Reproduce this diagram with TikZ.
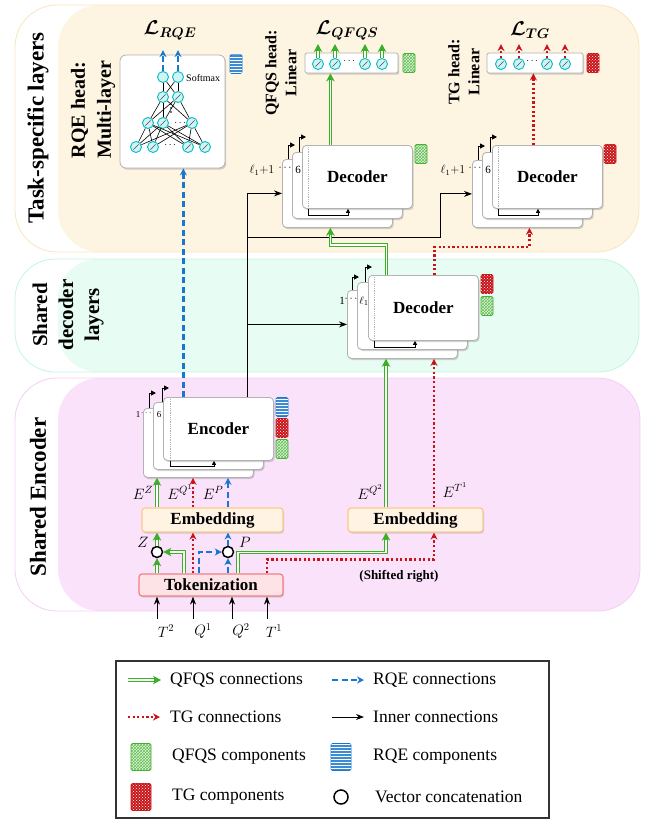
\documentclass[tikz,border=0pt]{standalone}
\usepackage{fix-cm}
\usepackage{amsmath,bm}
\usepackage{fontspec}
\setmainfont{Liberation Serif}
\usepackage{tikz}
\usetikzlibrary{arrows.meta,shadows,patterns}
\definecolor{qfgreen}{RGB}{60,175,40}
\definecolor{tgred}{RGB}{200,20,25}
\definecolor{rqblue}{RGB}{25,120,205}
\definecolor{nrcyan}{RGB}{0,190,195}
\definecolor{taskbg}{RGB}{253,244,226}
\definecolor{taskrim}{RGB}{250,228,190}
\definecolor{sdecbg}{RGB}{231,252,243}
\definecolor{sdecrim}{RGB}{195,245,228}
\definecolor{encbg}{RGB}{251,226,251}
\definecolor{encrim}{RGB}{245,205,245}
\definecolor{tokfill}{RGB}{253,226,230}
\definecolor{tokrim}{RGB}{240,128,135}
\definecolor{embfill}{RGB}{255,243,228}
\definecolor{embrim}{RGB}{250,200,140}

\begin{document}
\begin{tikzpicture}[
  x=1pt,y=-1pt,>=Stealth,
  bandlab/.style={rotate=90,align=center,font=\fontsize{23}{26}\selectfont\bfseries},
  headlab/.style={rotate=90,align=center,font=\fontsize{16}{20}\selectfont\bfseries},
  layer/.style={draw=black!30,fill=white,rounded corners=4pt,anchor=north west,
    minimum width=110pt,inner sep=0,line width=0.8pt,
    drop shadow={opacity=0.35,shadow xshift=1.2pt,shadow yshift=-1.6pt},
    font=\fontsize{17}{20}\selectfont\bfseries},
  stacklab/.style={inner sep=0,font=\fontsize{11}{13}\selectfont},
  headbox/.style={draw=black!30,fill=white,rounded corners=1.5pt,inner sep=0,line width=0.8pt,
    drop shadow={opacity=0.35,shadow xshift=1.2pt,shadow yshift=-1.6pt}},
  neuron/.style={circle,draw=nrcyan,fill=nrcyan!18,line width=0.9pt,minimum size=11pt,inner sep=0},
  sneuron/.style={neuron,path picture={\draw[black!70,line width=0.5pt]
    ([shift={(-2.6pt,-2.6pt)}]path picture bounding box.center) --
    ([shift={(2.6pt,2.6pt)}]path picture bounding box.center);}},
  nnedge/.style={black,line width=0.6pt},
  dotsl/.style={inner sep=0,font=\fontsize{10}{12}\selectfont},
  tokbox/.style={draw=tokrim,fill=tokfill,rounded corners=3pt,line width=1.2pt,inner sep=0,
    font=\fontsize{17}{20}\selectfont\bfseries,
    drop shadow={opacity=0.3,shadow xshift=1pt,shadow yshift=-1.5pt}},
  embbox/.style={tokbox,draw=embrim,fill=embfill},
  concat/.style={circle,draw,line width=1.5pt,fill=white,minimum size=11pt,inner sep=0},
  ico/.style={rounded corners=1.5pt,minimum width=12pt,minimum height=19pt,inner sep=0,line width=0.8pt},
  qico/.style={ico,draw=qfgreen,fill=qfgreen!15,postaction={pattern=crosshatch,pattern color=qfgreen!80}},
  tico/.style={ico,draw=tgred,fill=tgred,postaction={pattern=crosshatch dots,pattern color=white}},
  rico/.style={ico,draw=rqblue,fill=rqblue!85,postaction={pattern=horizontal lines,pattern color=white}},
  elab/.style={inner sep=0,font=\fontsize{15}{18}\selectfont},
  flag/.style={line width=1pt,-{Triangle[length=5pt,width=5pt]}},
  loopar/.style={line width=1pt,-{Triangle[length=4pt,width=4pt]}},
  sepline/.style={black!30,densely dotted,line width=0.8pt},
  qf/.style={draw=qfgreen,line width=3.8pt,-{Stealth[length=8pt,width=8.5pt]},
    postaction={draw=white,line width=1.3pt,-,shorten >=7pt}},
  tg/.style={draw=tgred,line width=2.2pt,dash pattern=on 2.2pt off 2.4pt,-{Stealth[length=7pt,width=7pt]}},
  rq/.style={draw=rqblue,line width=2.2pt,dash pattern=on 6pt off 3.5pt,-{Stealth[length=7pt,width=7pt]}},
  inner/.style={draw=black,line width=1pt,-{Stealth[length=8pt,width=6pt]}},
  legtext/.style={anchor=west,inner sep=0,font=\fontsize{17.5}{20}\selectfont}
]
\useasboundingbox (0,0) rectangle (649,820);
% bands
\fill[white,rounded corners=42pt] (15,5) rectangle (639,252);
\fill[taskbg,rounded corners=42pt] (58,5) rectangle (639,252);
\draw[taskrim,line width=0.8pt,rounded corners=42pt] (15,5) rectangle (639,252);
\fill[white,rounded corners=40pt] (15,259) rectangle (639,372);
\fill[sdecbg,rounded corners=40pt] (58,259) rectangle (639,372);
\draw[sdecrim,line width=0.8pt,rounded corners=40pt] (15,259) rectangle (639,372);
\fill[white,rounded corners=42pt] (15,378) rectangle (640,611);
\fill[encbg,rounded corners=42pt] (58,378) rectangle (640,611);
\draw[encrim,line width=0.8pt,rounded corners=42pt] (15,378) rectangle (640,611);
\node[bandlab] (tasklab) at (38,128) {Task-specific layers};
\node[bandlab,font=\fontsize{21}{26}\selectfont\bfseries] (sdeclab) at (68,315) {Shared\\decoder\\layers};
\node[bandlab] (enclab) at (38,497) {Shared Encoder};

% task heads
\node[headlab,font=\fontsize{20}{26}\selectfont\bfseries] (rqelab) at (93,110) {RQE head:\\Multi-layer};
\node[headlab] (qfqslab) at (281,73) {QFQS head:\\Linear};
\node[headlab] (tglab) at (464,72) {TG head:\\Linear};
\node[font=\fontsize{20}{24}\selectfont] (lrqe) at (170,30) {$\boldsymbol{\mathcal{L}_{RQE}}$};
\node[font=\fontsize{20}{24}\selectfont] (lqfqs) at (347,30) {$\boldsymbol{\mathcal{L}_{QFQS}}$};
\node[font=\fontsize{20}{24}\selectfont] (ltg) at (530,30) {$\boldsymbol{\mathcal{L}_{TG}}$};

\node[headbox,minimum width=105pt,minimum height=113pt,rounded corners=6pt] (rqe) at (172.5,111.5) {};
\node[neuron] (r4a) at (163,77) {};
\node[neuron] (r4b) at (178,77) {};
\node[sneuron] (r3a) at (163,97) {};
\node[sneuron] (r3b) at (178,97) {};
\node[sneuron] (r2a) at (148,123) {};
\node[sneuron] (r2b) at (163,123) {};
\node[sneuron] (r2c) at (192,123) {};
\node[sneuron] (r1a) at (136,147) {};
\node[sneuron] (r1b) at (153,147) {};
\node[sneuron] (r1c) at (188,147) {};
\node[sneuron] (r1d) at (205,147) {};
\foreach \s in {r3a,r3b} \foreach \t in {r4a,r4b} \draw[nnedge] (\s) -- (\t);
\foreach \s in {r2a,r2b,r2c} \foreach \t in {r3a,r3b} \draw[nnedge] (\s) -- (\t);
\foreach \s in {r1a,r1b,r1c,r1d} \foreach \t in {r2a,r2b,r2c} \draw[nnedge] (\s) -- (\t);
\foreach \yy in {104,108,112} \fill (171,\yy) circle (0.8);
\node[dotsl] (rd2) at (181,123) {$\cdots$};
\node[dotsl] (rd1) at (171,145) {$\cdots$};
\node[dotsl,anchor=west] (smax) at (186,78) {Softmax};
\draw[rq] (r4a.north) -- ++(0,-21);
\draw[rq] (r4b.north) -- ++(0,-21);
\node[rico] (rhico) at (236,64) {};

\node[headbox,minimum width=93pt,minimum height=20pt] (qhead) at (351.5,63) {};
\node[sneuron] (qh1) at (318,64) {};
\node[sneuron] (qh2) at (335,64) {};
\node[sneuron] (qh3) at (365,64) {};
\node[sneuron] (qh4) at (382,64) {};
\node[dotsl] (qhd) at (350,61) {$\cdots$};
\draw[qf] (qh1.north) -- ++(0,-14);
\draw[qf] (qh2.north) -- ++(0,-14);
\draw[qf] (qh3.north) -- ++(0,-14);
\draw[qf] (qh4.north) -- ++(0,-14);
\node[qico] (qhico) at (409,63) {};

\node[headbox,minimum width=96pt,minimum height=20pt] (thead) at (535,63) {};
\node[sneuron] (th1) at (501,64) {};
\node[sneuron] (th2) at (519,64) {};
\node[sneuron] (th3) at (547,64) {};
\node[sneuron] (th4) at (565,64) {};
\node[dotsl] (thd) at (533,61) {$\cdots$};
\draw[tg] (th1.north) -- ++(0,-14);
\draw[tg] (th2.north) -- ++(0,-14);
\draw[tg] (th3.north) -- ++(0,-14);
\draw[tg] (th4.north) -- ++(0,-14);
\node[tico] (thico) at (593,63) {};

% QFQS decoder stack
\node[layer,minimum height=68pt] (qdecA) at (282,159) {};
\node[layer,minimum height=66pt] (qdecB) at (292,152) {};
\node[layer,minimum height=63pt] (qdec) at (302,145) {Decoder};
\draw[flag] ([xshift=6pt]qdecA.north west) -- ++(0,-14) -- ++(7,0);
\draw[flag] ([xshift=7pt]qdecB.north west) -- ++(0,-15) -- ++(7,0);
\draw[sepline] ([xshift=6pt,yshift=-2pt]qdec.north west) -- ([xshift=6pt,yshift=2pt]qdec.south west);
\draw[loopar] ([xshift=6pt]qdec.south west) -- ++(0,7) -| ([xshift=46pt]qdec.south west);
\node[stacklab,font=\fontsize{12}{14}\selectfont] (qdl1) at (262,170) {$\ell_1{+}1$};
\node[stacklab] (qdl2) at (286,168) {$\cdots$};
\node[stacklab] (qdl3) at (298,170) {6};
\node[qico] (qdico) at (421,154) {};

% TG decoder stack
\node[layer,minimum height=67pt] (tdecA) at (472,160) {};
\node[layer,minimum height=66pt] (tdecB) at (482,152) {};
\node[layer,minimum height=63pt] (tdec) at (492,145) {Decoder};
\draw[flag] ([xshift=6pt]tdecA.north west) -- ++(0,-14) -- ++(7,0);
\draw[flag] ([xshift=8pt]tdecB.north west) -- ++(0,-15) -- ++(7,0);
\draw[sepline] ([xshift=6pt,yshift=-2pt]tdec.north west) -- ([xshift=6pt,yshift=2pt]tdec.south west);
\draw[loopar] ([xshift=6pt]tdec.south west) -- ++(0,7) -| ([xshift=46pt]tdec.south west);
\node[stacklab,font=\fontsize{12}{14}\selectfont] (tdl1) at (453,170) {$\ell_1{+}1$};
\node[stacklab] (tdl2) at (476,168) {$\cdots$};
\node[stacklab] (tdl3) at (488,170) {6};
\node[tico] (tdico) at (610,154) {};

% shared decoder stack
\node[layer,minimum height=68pt] (sdecA) at (347,290) {};
\node[layer,minimum height=67pt] (sdecB) at (357,282) {};
\node[layer,minimum height=65pt] (sdec) at (368,275) {Decoder};
\draw[flag] ([xshift=5pt]sdecA.north west) -- ++(0,-13) -- ++(7,0);
\draw[flag] ([xshift=8pt]sdecB.north west) -- ++(0,-15) -- ++(7,0);
\draw[sepline] ([xshift=6pt,yshift=-2pt]sdec.north west) -- ([xshift=6pt,yshift=2pt]sdec.south west);
\draw[loopar] ([xshift=6pt]sdec.south west) -- ++(0,7) -| ([xshift=47pt]sdec.south west);
\node[stacklab] (sdl1) at (342,301) {1};
\node[stacklab] (sdl2) at (352,299) {$\cdots$};
\node[stacklab] (sdl3) at (364,301) {$\ell_1$};
\node[tico] (sdtico) at (487,284) {};
\node[qico] (sdqico) at (487,306) {};

% encoder stack
\node[layer,minimum height=69pt] (encA) at (143,408) {};
\node[layer,minimum height=67pt] (encB) at (153,402) {};
\node[layer,minimum height=63pt] (enc) at (163,397) {Encoder};
\draw[flag] ([xshift=6pt]encA.north west) -- ++(0,-15) -- ++(7,0);
\draw[flag] ([xshift=9pt]encB.north west) -- ++(0,-14) -- ++(7,0);
\draw[sepline] ([xshift=7pt,yshift=-2pt]enc.north west) -- ([xshift=7pt,yshift=2pt]enc.south west);
\draw[loopar] ([xshift=7pt]enc.south west) -- ++(0,6) -| ([xshift=51pt]enc.south west);
\node[stacklab,font=\fontsize{9}{11}\selectfont] (edl1) at (138,415) {1};
\node[stacklab,font=\fontsize{9}{11}\selectfont] (edl2) at (147,413) {$\cdots$};
\node[stacklab,font=\fontsize{9}{11}\selectfont] (edl3) at (159,415) {6};
\node[rico] (erico) at (282,407) {};
\node[tico] (etico) at (282,428) {};
\node[qico] (eqico) at (282,449) {};

% tokenization and embeddings
\node[tokbox,minimum width=144pt,minimum height=22pt] (tok) at (211,585) {Tokenization};
\node[embbox,minimum width=141pt,minimum height=24pt] (emb1) at (212.5,520) {Embedding};
\node[embbox,minimum width=135pt,minimum height=24pt] (emb2) at (415.5,520) {Embedding};
\node[concat] (zc) at (157,552) {};
\node[concat] (pc) at (228,552) {};
\node[elab] (zlab) at (143,542) {$Z$};
\node[elab] (plab) at (245,542) {$P$};
\node[elab] (ez) at (143,493) {$E^{Z}$};
\node[elab] (eq1) at (180,492) {$E^{Q^1}$};
\node[elab] (ep) at (213,493) {$E^{P}$};
\node[elab] (eq2) at (370,492) {$E^{Q^2}$};
\node[elab] (et1) at (455,490) {$E^{T^1}$};
\node[inner sep=0,font=\fontsize{13}{15}\selectfont\bfseries] (shift) at (399,576) {(Shifted right)};

% inputs
\coordinate (T2in) at (157,619);
\coordinate (Q1in) at (193,619);
\coordinate (Q2in) at (232,619);
\coordinate (T1in) at (267,619);
\node[elab] (T2) at (166,631) {$T^2$};
\node[elab] (Q1) at (203,631) {$Q^1$};
\node[elab] (Q2) at (241,631) {$Q^2$};
\node[elab] (T1) at (274,631) {$T^1$};
\draw[inner] (T2in) -- (T2in |- tok.south);
\draw[inner] (Q1in) -- (Q1in |- tok.south);
\draw[inner] (Q2in) -- (Q2in |- tok.south);
\draw[inner] (T1in) -- (T1in |- tok.south);

% tokenization -> embeddings
\draw[qf] (zc |- tok.north) -- (zc);
\draw[qf] (zc) -- (zc |- emb1.south);
\draw[qf] ([xshift=-27pt]tok.north) |- (zc);
\draw[tg] (Q1in |- tok.north) -- (Q1in |- emb1.south);
\draw[rq] ([xshift=-12pt]tok.north) |- (pc);
\draw[rq] (pc |- tok.north) -- (pc);
\draw[rq] (pc) -- (pc |- emb1.south);
\draw[qf] ([xshift=27pt]tok.north) -- ++(0,-21) -| ([xshift=-29.5pt]emb2.south);
\draw[tg] (T1in |- tok.north) -- ++(0,-14) -| ([xshift=18.5pt]emb2.south);

% embeddings -> encoder / shared decoder
\draw[qf] (zc |- emb1.north) -- (zc |- encA.south);
\draw[tg] (Q1in |- emb1.north) -- (Q1in |- encA.south);
\draw[rq] (pc |- emb1.north) -- (pc |- encA.south);
\draw[qf] ([xshift=-29.5pt]emb2.north) -- ([xshift=-29.5pt]emb2.north |- sdecA.south);
\draw[tg] ([xshift=18.5pt]emb2.north) -- ([xshift=18.5pt]emb2.north |- sdecA.south);

% encoder outputs
\coordinate (trunk) at ([xshift=29pt]enc.north);
\coordinate (tgbend) at (440,237);
\draw[inner] (trunk) |- (qdecA.west);
\draw[inner] (trunk |- sdecA.west) -- (sdecA.west);
\draw[inner] (trunk |- tgbend) -- (tgbend) |- (tdecA.west);
\draw[rq] ([xshift=-35pt]enc.north) -- ([xshift=-35pt]enc.north |- rqe.south);

% shared decoder -> task decoders -> heads
\draw[qf] ([xshift=-37pt]sdec.north) -- ++(0,-30) -| ([xshift=-7pt]qdecA.south);
\draw[tg] ([xshift=11pt]sdec.north) -- ++(0,-28) -| ([xshift=2pt]tdecA.south);
\draw[qf] ([xshift=-27pt]qdec.north) -- ([xshift=-27pt]qdec.north |- qhead.south);
\draw[tg] ([xshift=-14pt]tdec.north) -- ([xshift=-14pt]tdec.north |- thead.south);

% legend
\node[draw=black!80,line width=1.3pt,minimum width=433pt,minimum height=157pt,inner sep=0] (legend) at (332.5,739.5) {};
\node[legtext] (lgqf) at (170,680) {QFQS connections};
\draw[qf] ([xshift=-42pt]lgqf.west) -- ([xshift=-9pt]lgqf.west);
\node[legtext] (lgrq) at (373,680) {RQE connections};
\draw[rq] ([xshift=-41pt]lgrq.west) -- ([xshift=-9pt]lgrq.west);
\node[legtext] (lgtg) at (170,717) {TG connections};
\draw[tg] ([xshift=-42pt]lgtg.west) -- ([xshift=-10pt]lgtg.west);
\node[legtext] (lgin) at (373,717) {Inner connections};
\draw[inner] ([xshift=-41pt]lgin.west) -- ([xshift=-9pt]lgin.west);
\node[qico,minimum width=20pt,minimum height=27pt] (lgqi) at (141,757) {};
\node[legtext] (lgqc) at (172,757) {QFQS components};
\node[rico,minimum width=20pt,minimum height=27pt] (lgri) at (341,757) {};
\node[legtext] (lgrc) at (373,757) {RQE components};
\node[tico,minimum width=20pt,minimum height=27pt] (lgti) at (141,797) {};
\node[legtext] (lgtc) at (172,797) {TG components};
\node[concat,minimum size=14pt] (lgci) at (341,797) {};
\node[legtext] (lgcc) at (375,797) {Vector concatenation};
\end{tikzpicture}
\end{document}
